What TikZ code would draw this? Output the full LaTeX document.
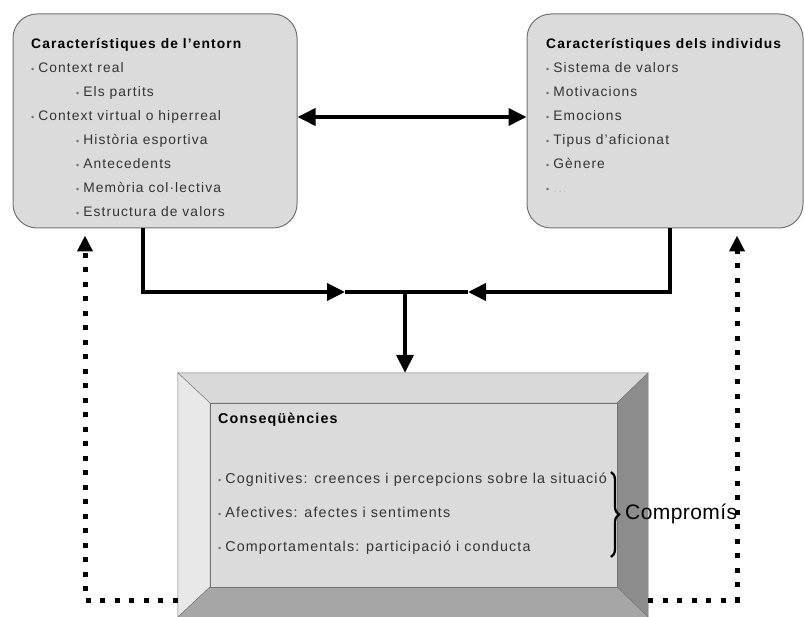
\documentclass[tikz,border=0pt]{standalone}
\usepackage{fontspec}
\setmainfont{Liberation Sans}[LetterSpace=8]
\usepackage{xcolor}
\usetikzlibrary{arrows.meta,decorations.pathreplacing,positioning}

\newcommand{\bul}{{\color{black!55}\small\textbullet}\hspace{4pt}}

\begin{document}
\begin{tikzpicture}[x=1pt,y=-1pt,>={Triangle[length=18pt,width=17pt]},
  box/.style={draw=black!55,fill=black!14,rounded corners=24pt,line width=1pt,minimum width=284pt,minimum height=214pt},
  txt/.style={align=left,anchor=north west,inner sep=0pt,text=black!80,font=\fontsize{13.8}{24}\selectfont},
  big/.style={line width=3.8pt,->},
  fb/.style={line width=5pt,dash pattern=on 5pt off 9.5pt,-{Triangle[length=16pt,width=15pt]}}]
\useasboundingbox (0,0) rectangle (805,617);

\node[box] (entorn) at (155,121) {};
\node[box,minimum width=276pt] (individus) at (665,121) {};

\node[txt] (entornTxt) at (31,38) {\textbf{\color{black}Característiques de l'entorn}\\
  \bul Context real\\
  \hspace*{45pt}\bul Els partits\\
  \bul Context virtual o hiperreal\\
  \hspace*{45pt}\bul Història esportiva\\
  \hspace*{45pt}\bul Antecedents\\
  \hspace*{45pt}\bul Memòria col·lectiva\\
  \hspace*{45pt}\bul Estructura de valors};
\node[txt] (individusTxt) at (546,38) {\textbf{\color{black}Característiques dels individus}\\
  \bul Sistema de valors\\
  \bul Motivacions\\
  \bul Emocions\\
  \bul Tipus d'aficionat\\
  \bul Gènere\\
  \bul {\color{black!25}...}};

\draw[big,<->] (entorn.east |- 0,117) -- (individus.west |- 0,117);

% caixa de les consequencies
\node[minimum width=470pt,minimum height=244pt,inner sep=0pt] (conseq) at (413,495) {};
\coordinate (i1) at (210,403);
\coordinate (i2) at (617,403);
\coordinate (i3) at (617,587);
\coordinate (i4) at (210,587);
\filldraw[draw=black!55,fill=black!15] (conseq.north west) -- (conseq.north east) -- (i2) -- (i1) -- cycle;
\filldraw[draw=black!55,fill=black!9] (conseq.north west) -- (i1) -- (i4) -- (conseq.south west) -- cycle;
\filldraw[draw=black!55,fill=black!45] (conseq.north east) -- (conseq.south east) -- (i3) -- (i2) -- cycle;
\filldraw[draw=black!55,fill=black!35] (conseq.south west) -- (i4) -- (i3) -- (conseq.south east) -- cycle;
\filldraw[draw=black!55,fill=black!14] (i1) rectangle (i3);

\node[txt,font=\fontsize{14.3}{34}\selectfont] (conseqTxt) at (218,413) {\textbf{\color{black}Conseqüències}\\[26pt]
  \bul Cognitives: creences i percepcions sobre la situació\\
  \bul Afectives: afectes i sentiments\\
  \bul Comportamentals: participació i conducta};

\coordinate (bt) at (611,472);
\coordinate (bb) at (611,557);
\draw[line width=2.2pt,decorate,decoration={brace,amplitude=8pt}] (bt) -- (bb);
\node[anchor=west,inner sep=0pt,font=\fontsize{21}{24}\selectfont\addfontfeatures{LetterSpace=2}] (compromis) at (625,514) {Compromís};

\coordinate (jl) at (345,292);
\coordinate (jr) at (468,292);
\coordinate (jm) at (405,292);
\draw[big] ([xshift=-12pt]entorn.south) |- (jl);
\draw[big] ([xshift=5pt]individus.south) |- (jr);
\draw[line width=3.8pt] (jl) -- (jr);
\draw[big] (jm) -- (jm |- conseq.north);

\draw[fb] (conseq.west |- 0,600) -| ([xshift=-70pt,yshift=-7pt]entorn.south);
\draw[fb] (conseq.east |- 0,600) -| ([xshift=72pt,yshift=-7pt]individus.south);
\end{tikzpicture}
\end{document}
